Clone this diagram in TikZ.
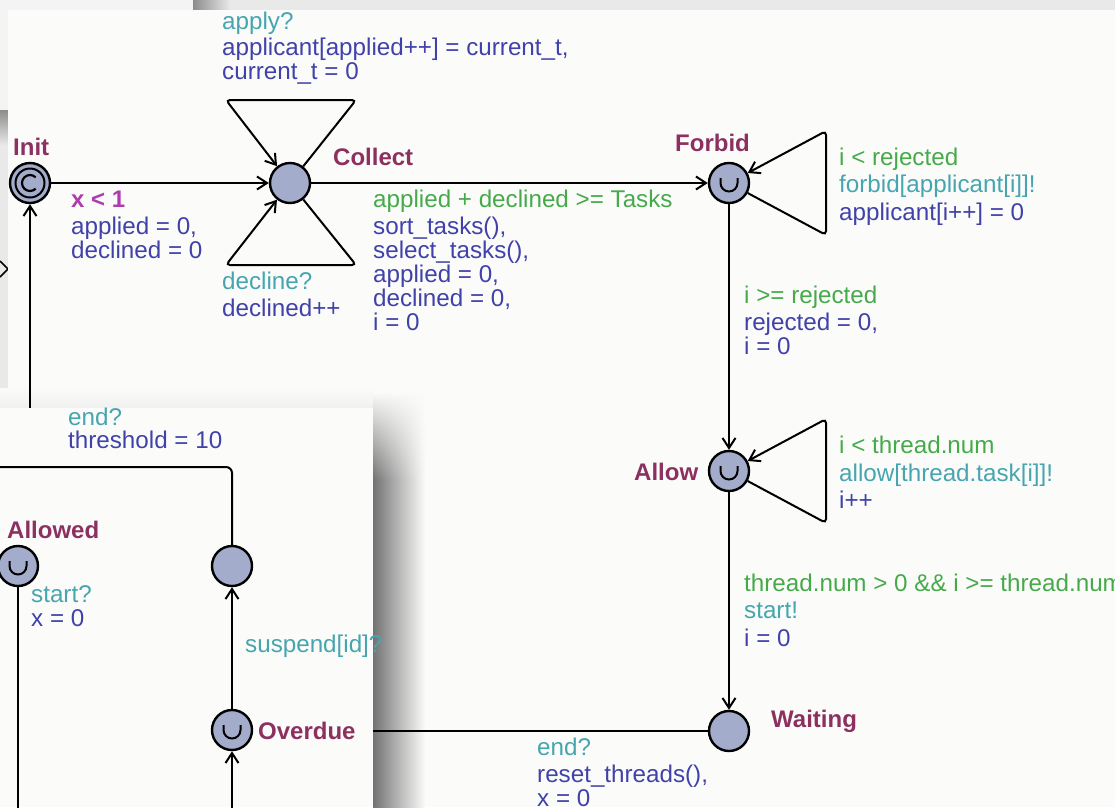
\documentclass[tikz,border=0pt]{standalone}
\usepackage{fontspec}
\setmainfont{Liberation Sans}
\usepackage{tikz}
\usetikzlibrary{arrows.meta, fadings}
\definecolor{Fondo}{RGB}{233, 233, 233}
\definecolor{Claro}{RGB}{244, 244, 244}
\definecolor{Ventana}{RGB}{251, 252, 250}
\definecolor{Pizarra}{RGB}{164, 172, 204}
\definecolor{Granate}{RGB}{140, 48, 96}
\definecolor{Verde}{RGB}{70, 170, 75}
\definecolor{Turquesa}{RGB}{70, 165, 175}
\definecolor{Anil}{RGB}{65, 65, 170}
\definecolor{Fucsia}{RGB}{175, 60, 175}

\begin{document}
\begin{tikzpicture}[
        x=1pt, y=-1pt,
        loc/.style={
            circle,
            draw=black,
            line width=2.4pt,
            fill=Pizarra,
            minimum size=40pt,
            inner sep=0pt
        },
        urgent/.style={
            loc,
            path picture={
                \draw[line width=2pt] ([shift={(-8.5pt,5pt)}]path picture bounding box.center)
                    -- ++(0pt,-5pt) arc[start angle=180, end angle=360, radius=8.5pt] -- ++(0pt,5pt);
            }
        },
        committed/.style={
            loc,
            path picture={
                \draw[line width=2pt] (path picture bounding box.center) circle[radius=14.5pt];
                \draw[line width=2.2pt] ([shift={(45:8pt)}]path picture bounding box.center)
                    arc[start angle=45, end angle=315, radius=8pt];
            }
        },
        txt/.style={
            anchor=base west,
            inner sep=0pt,
            align=left,
            font=\fontsize{24.2}{24}\selectfont
        },
        locname/.style={txt, text=Granate, font=\fontsize{24}{24}\selectfont\bfseries},
        inv/.style={txt, text=Fucsia, font=\fontsize{24}{24}\selectfont\bfseries},
        guard/.style={txt, text=Verde},
        sync/.style={txt, text=Turquesa},
        upd/.style={txt, text=Anil},
        plain/.style={
            draw=black,
            line width=2pt
        },
        edge/.style={
            plain,
            -{Straight Barb[length=10pt, width=13pt]}
        }
    ]
        \useasboundingbox (0,0) rectangle (1115,807);
        \clip (0,0) rectangle (1115,807);

        % Windows
        \fill[Fondo] (0,0) rectangle (1115,807);
        \fill[Claro] (0,0) rectangle (193,110);
        \shade[left color=black!45, right color=Fondo] (193,0) rectangle (230,10);
        \shade[top color=black!45, bottom color=Fondo] (0,110) rectangle (8,145);
        \draw[line width=1.5pt] (0,261) -- (8,269) -- (0,277);
        \fill[Ventana] (8,10) rectangle (1115,807);
        \shade[top color=Ventana, bottom color=black!6] (0,388) rectangle (373,408);
        \shade[left color=black!55, right color=Ventana, path fading=north] (373,392) rectangle (425,480);
        \shade[left color=black!55, right color=Ventana] (373,480) rectangle (425,807);

        % Nodes
        \node[committed] (init) at (30,183) {};
        \node[loc] (collect) at (290,183) {};
        \node[urgent] (forbid) at (729,183) {};
        \node[urgent] (allow) at (729,471) {};
        \node[loc] (waiting) at (729,731) {};

        \node[locname] at (13,155) {Init};
        \node[locname] at (333,165) {Collect};
        \node[locname] at (675,151) {Forbid};
        \node[locname] at (634,480) {Allow};
        \node[locname] at (771,727) {Waiting};

        \coordinate (collect-ul) at (226,100);
        \coordinate (collect-ur) at (356,100);
        \coordinate (collect-dl) at (226,265);
        \coordinate (collect-dr) at (356,265);
        \coordinate (forbid-t) at (826,131);
        \coordinate (forbid-b) at (826,235);
        \coordinate (allow-t) at (826,419);
        \coordinate (allow-b) at (826,523);
        \coordinate (init-in) at (30,420);
        \coordinate (waiting-out) at (360,731);

        % Paths
        \draw[edge] (init) -- (collect);
        \draw[edge, rounded corners=4pt] (collect) -- (collect-ur) -- (collect-ul) -- (collect);
        \draw[edge, rounded corners=4pt] (collect) -- (collect-dr) -- (collect-dl) -- (collect);
        \draw[edge] (collect) -- (forbid);
        \draw[edge, rounded corners=4pt] (forbid) -- (forbid-b) -- (forbid-t) -- (forbid);
        \draw[edge] (forbid) -- (allow);
        \draw[edge, rounded corners=4pt] (allow) -- (allow-b) -- (allow-t) -- (allow);
        \draw[edge] (allow) -- (waiting);
        \draw[plain] (waiting) -- (waiting-out);
        \draw[edge] (init-in) -- (init);

        % Labels (base of a block = its last line)
        \node[sync] at (222,29) {apply?};
        \node[upd] at (222,79) {applicant[applied++] = current\_t,\\current\_t = 0};
        \node[inv] at (71,207) {x < 1};
        \node[upd] at (71,258) {applied = 0,\\declined = 0};
        \node[sync] at (222,289) {decline?};
        \node[upd] at (222,316) {declined++};
        \node[guard] at (373,207) {applied + declined >= Tasks};
        \node[upd] at (373,330) {sort\_tasks(),\\select\_tasks(),\\applied = 0,\\declined = 0,\\i = 0};
        \node[guard] at (839,165) {i < rejected};
        \node[sync] at (839,192) {forbid[applicant[i]]!};
        \node[upd] at (839,220) {applicant[i++] = 0};
        \node[guard] at (744,303) {i >= rejected};
        \node[upd] at (744,354) {rejected = 0,\\i = 0};
        \node[guard] at (839,453) {i < thread.num};
        \node[sync] at (839,481) {allow[thread.task[i]]!};
        \node[upd] at (839,508) {i++};
        \node[guard] at (744,591) {thread.num > 0 \&\& i >= thread.num};
        \node[sync] at (744,618) {start!};
        \node[upd] at (744,646) {i = 0};
        \node[sync] at (537,755) {end?};
        \node[upd] at (537,806) {reset\_threads(),\\x = 0};

        % Front window
        \fill[Ventana] (0,408) rectangle (373,807);

        \node[urgent] (allowed) at (18,566) {};
        \node[loc] (suspended) at (232,566) {};
        \node[urgent] (overdue) at (232,730) {};

        \node[locname] at (7,538) {Allowed};
        \node[locname] at (258,739) {Overdue};

        \coordinate (suspended-corner) at (232,467);
        \coordinate (front-left) at (-5,467);
        \coordinate (allowed-out) at (18,815);
        \coordinate (overdue-in) at (232,815);

        \draw[plain, rounded corners=6pt] (suspended) -- (suspended-corner) -- (front-left);
        \draw[plain] (allowed) -- (allowed-out);
        \draw[edge] (overdue) -- (suspended);
        \draw[edge] (overdue-in) -- (overdue);

        \node[sync] at (68,425) {end?};
        \node[upd] at (68,448) {threshold = 10};
        \node[sync] at (31,602) {start?};
        \node[upd] at (31,626) {x = 0};
        \node[sync] at (245,652) {suspend[id]?};
    \end{tikzpicture}
\end{document}
